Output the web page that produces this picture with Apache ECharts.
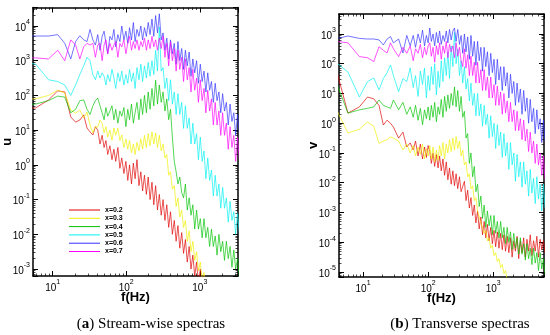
<!DOCTYPE html>
<html><head><meta charset="utf-8">
<script src="https://cdn.jsdelivr.net/npm/echarts@6/dist/echarts.min.js"></script>
<style>html,body{margin:0;padding:0;background:#fff}#c{width:550px;height:335px}</style>
</head><body><div id="c"></div>
<script>
// Series names and colours
const names = ['x=0.2','x=0.3','x=0.4','x=0.5','x=0.6','x=0.7'];
const colors = ['#e00000','#f0f000','#00c400','#00f0f0','#3232ff','#ff00ff'];

// ---- (a) stream-wise spectra: frequency (Hz) and log10(u) ----
const freqU = [2.93,5.86,8.79,11.7,14.6,17.6,20.5,23.4,26.4,29.3,32.2,35.2,38.1,41,44,47,50,53,56,60,64,68,72,77,82,87,93,99,105,111,118,125,132,140,149,158,167,177,188,199,211,224,237,251,266,282,299,317,336,356,378,400,424,450,477,505,535,568,602,638,676,717,760,805,854,905,959,1017,1078,1142,1211,1284,1361,1442,1529,1621,1718,1821,1930,2046,2169,2299,2437,2583,2738,2902,3076,3261,3457];
const u02 = [1.6,1.64,1.87,2.13,2.1,1.38,1.23,1.29,1.44,1.06,0.95,0.86,1.1,1.0,0.6,0.85,0.5,0.7,0.3,0.55,0.15,0.45,0.1,0.5,-0.1,0.2,-0.25,0.1,-0.45,0.0,-0.55,0.05,-0.4,0.15,-0.6,-0.2,-0.75,-0.3,-0.85,-0.35,-1.0,-0.5,-1.15,-0.6,-1.3,-0.85,-1.45,-1.0,-1.6,-1.15,-1.8,-1.35,-2.0,-1.6,-2.2,-1.75,-2.4,-1.95,-2.55,-2.15,-2.8,-2.35,-3.0,-2.6,-3.2,-2.8,-3.4,-3.0,-3.5,-3.2,-3.7];
const u03 = [1.87,1.9,2.0,2.15,2.07,1.58,1.49,1.58,1.35,1.52,1.15,0.92,1.1,1.09,1.29,1.2,0.92,1.1,0.8,1.0,0.71,1.06,0.85,1.06,0.7,0.86,0.5,0.75,0.45,0.7,0.35,0.6,0.3,0.65,0.4,0.75,0.45,0.85,0.5,0.9,0.55,0.95,0.6,0.92,0.5,0.85,0.4,0.6,0.2,0.3,-0.3,-0.2,-0.7,-0.6,-1.2,-0.95,-1.5,-1.3,-1.8,-1.6,-2.2,-1.9,-2.5,-2.2,-2.75,-2.5,-3.05,-2.8,-3.3,-3.1,-3.5];
const u04 = [1.72,1.75,1.85,1.98,1.95,1.5,1.6,1.85,1.87,1.6,1.45,1.7,1.85,1.92,1.7,1.5,1.3,1.65,1.4,1.55,1.7,1.3,1.6,1.2,1.55,1.4,1.65,1.1,1.6,1.3,1.75,1.2,1.5,1.8,1.3,1.9,1.45,2.0,1.5,2.1,1.6,2.2,1.7,2.44,1.75,2.3,1.8,2.1,1.55,1.9,1.3,1.6,0.8,0.1,-0.2,-0.55,-0.35,-0.8,-0.95,-0.55,-1.3,-0.95,-1.45,-1.15,-1.85,-1.3,-1.85,-1.55,-2.1,-1.55,-2.1,-1.8,-2.35,-1.85,-2.35,-2.05,-2.6,-2.0,-2.5,-2.2,-2.75,-2.2,-2.7,-2.35,-2.95,-2.45,-3.0,-2.7,-3.25];
const u05 = [3.0,2.9,2.45,2.4,2.3,2.0,2.3,2.6,2.85,3.1,3.0,2.6,2.45,2.7,2.5,2.65,2.55,2.3,2.6,2.4,2.75,2.5,2.2,2.65,2.4,2.7,2.3,2.6,2.35,2.75,2.4,2.65,2.2,2.8,2.45,2.9,2.4,2.85,2.5,2.95,2.55,3.0,2.6,3.3,2.7,3.97,2.7,2.8,2.2,2.5,1.85,2.45,1.75,2.1,1.45,2.05,1.45,1.8,1.05,1.7,1.05,1.35,0.6,1.2,0.6,0.9,0.15,0.8,0.1,0.4,-0.4,0.2,-0.45,-0.15,-0.9,-0.3,-0.9,-0.55,-1.25,-0.65,-1.25,-0.95,-1.65,-1.05,-1.6,-1.35,-2.0,-1.4,-1.95];
const u06 = [3.71,3.71,3.71,3.75,3.5,3.05,3.55,3.72,3.6,3.55,3.9,3.6,3.45,3.75,3.3,3.7,3.85,3.5,3.2,3.7,3.6,3.9,3.4,3.75,3.55,4.0,3.6,3.85,3.5,3.95,3.6,4.1,3.55,3.9,3.7,4.0,3.6,3.95,3.7,4.1,3.75,4.2,3.7,4.3,3.8,4.35,3.6,3.8,3.3,3.65,3.05,3.6,3.2,3.5,2.9,3.55,3.0,3.35,2.75,3.3,2.85,3.25,2.55,3.05,2.65,3.0,2.35,2.9,2.4,2.7,2.1,2.65,2.15,2.4,1.8,2.35,1.85,2.1,1.5,2.05,1.55,1.8,1.15,1.75,1.25,1.5,0.85,1.45,0.95];
const u07 = [3.08,3.08,3.05,3.3,3.0,3.6,3.45,3.05,3.4,3.5,3.45,3.5,3.1,3.45,3.5,3.0,3.45,3.6,3.2,3.5,3.3,3.45,3.55,3.1,3.5,3.4,3.6,3.2,3.5,3.7,3.3,3.55,3.35,3.6,3.3,3.55,3.4,3.65,3.3,3.6,3.35,3.7,3.4,3.6,3.3,3.65,3.35,3.7,3.1,3.5,2.85,3.55,3.0,3.35,2.7,3.3,2.75,3.1,2.4,3.05,2.45,2.8,2.1,2.75,2.15,2.5,1.8,2.45,1.85,2.2,1.5,2.15,1.55,1.9,1.15,1.8,1.15,1.55,0.85,1.5,0.85,1.2,0.45,1.1,0.5,0.85,0.1,0.8,0.15];

// ---- (b) transverse spectra: frequency (Hz) and log10(v) ----
const freqV = [2.93,5.86,8.79,11.7,14.6,17.6,20.5,23.4,26.4,29.3,35.2,41,47,53,59,64,70,76,82,88,94,100,106,112,119,126,134,142,150,159,169,179,190,201,213,226,240,254,269,285,303,321,340,361,382,405,430,455,483,512,542,575,609,646,685,726,769,815,864,916,971,1029,1091,1156,1226,1299,1377,1460,1547,1640,1739,1843,1953,2071,2195,2326,2466,2614,2771,2937,3113,3300,3498,3708,3930,4166,4416,4681,4962,5260,5575,5910,6264];
const v02 = [2.8,0.34,0.55,0.88,0.82,0.6,-0.06,0.1,0.0,-0.13,-0.5,-0.3,-0.8,-0.66,-0.9,-0.6,-1.1,-0.7,-1.2,-0.8,-1.15,-0.75,-0.95,-1.35,-1.0,-1.45,-1.05,-1.5,-1.1,-1.6,-1.2,-1.75,-1.3,-1.9,-1.5,-2.05,-1.6,-2.1,-1.7,-2.2,-1.8,-2.3,-2.35,-1.95,-2.6,-2.25,-2.85,-2.5,-3.1,-2.75,-3.35,-2.95,-3.55,-3.15,-3.75,-3.3,-3.85,-3.4,-3.95,-3.5,-4.05,-3.6,-4.15,-3.65,-4.2,-3.7,-4.25,-3.75,-4.3,-3.8,-4.35,-3.85,-4.5,-3.95,-4.3,-3.8,-4.55,-3.95,-4.35,-3.85,-4.5,-3.9,-4.3,-3.75,-4.45,-3.95,-4.3,-3.8,-4.5,-3.9,-4.25,-3.95,-4.35];
const v03 = [1.02,-0.33,-0.2,0.04,-0.1,-0.68,-0.6,-0.55,-0.46,-0.5,-0.6,-0.9,-0.7,-1.0,-0.75,-1.1,-0.8,-1.05,-0.7,-1.2,-0.85,-1.1,-0.75,-1.2,-0.8,-1.3,-0.9,-1.25,-0.75,-1.1,-0.65,-1.2,-0.7,-1.0,-0.55,-0.95,-0.5,-0.9,-0.45,-0.85,-0.6,-1.1,-0.9,-1.4,-1.3,-1.8,-1.7,-2.2,-2.1,-2.6,-2.5,-2.95,-2.9,-3.35,-3.3,-3.7,-3.6,-3.95,-3.85,-4.2,-4.1,-4.45,-4.35,-4.65,-4.55,-4.85,-4.75,-5.05,-4.95,-5.25,-5.2,-5.4];
const v04 = [2.07,0.34,0.45,0.5,0.55,0.78,0.6,0.55,0.5,0.78,0.45,0.7,0.3,0.55,0.2,0.6,0.1,0.5,-0.05,0.45,0.15,0.55,0.1,0.6,0.2,0.7,0.05,0.55,0.3,0.8,0.2,0.9,0.4,0.95,0.5,1.0,0.6,1.22,0.55,1.1,0.4,0.9,0.2,0.4,-0.5,-0.35,-1.35,-1.0,-1.8,-1.45,-2.3,-2.05,-2.8,-2.45,-3.2,-2.75,-3.5,-2.95,-3.45,-3.1,-3.75,-3.1,-3.7,-3.3,-3.85,-3.3,-3.85,-3.5,-4.05,-3.5,-4.0,-3.65,-4.25,-3.7,-4.2,-3.85,-4.4,-3.85,-4.4,-4.05,-4.6,-4.05,-4.55,-4.2,-4.75,-4.2,-4.7,-4.35,-4.95,-4.35,-4.9,-4.55,-5.1];
const v05 = [2.25,1.72,0.88,1.4,1.52,1.12,1.5,1.7,1.96,1.6,1.06,1.5,1.4,1.86,1.2,1.6,0.9,1.75,1.3,1.85,0.85,1.6,1.1,1.9,1.3,2.0,0.95,1.75,1.2,2.1,1.4,2.2,1.6,2.4,1.5,2.6,1.9,3.05,2.0,2.5,1.6,2.1,1.35,1.9,1.15,1.5,0.75,1.35,0.6,1.0,0.25,1.0,0.25,0.65,-0.1,0.6,-0.05,0.3,-0.5,0.25,-0.45,0.0,-0.85,-0.05,-0.75,-0.3,-1.15,-0.35,-1.1,-0.65,-1.55,-0.65,-1.4,-1.0,-1.95,-1.05,-1.8,-1.3,-2.15,-1.3,-2.05,-1.6,-2.45,-1.55,-2.35,-1.85,-2.7,-1.8,-2.55,-2.05,-2.95,-2.05,-2.85];
const v06 = [2.78,2.93,2.85,2.83,2.83,2.8,2.63,2.83,2.91,2.7,2.83,2.36,2.95,2.6,2.95,2.55,3.0,2.7,3.13,2.6,2.95,2.7,3.2,2.75,3.0,2.6,3.05,2.7,3.1,2.65,2.95,2.75,3.1,2.7,3.15,2.8,3.1,3.2,2.75,3.15,2.65,2.95,2.35,3.0,2.4,2.9,2.15,2.95,2.25,2.75,1.95,2.75,2.1,2.55,1.75,2.55,1.9,2.4,1.6,2.35,1.7,2.15,1.3,2.15,1.45,1.9,1.1,1.9,1.25,1.7,0.85,1.65,1.0,1.4,0.6,1.35,0.7,1.15,0.3,1.1,0.4,0.85,0.0,0.8,0.05,0.5,-0.35,0.45,-0.2,0.15,-0.65,0.1,-0.6];
const v07 = [2.79,2.7,2.24,2.2,2.07,2.57,2.45,2.36,2.7,2.5,2.24,2.55,2.35,2.6,2.1,2.5,2.35,2.65,2.2,2.55,2.3,2.6,2.7,2.25,2.55,2.05,2.6,2.3,2.7,2.15,2.6,2.35,2.75,2.2,2.65,2.4,2.6,2.2,2.7,2.25,2.55,2.1,1.9,2.5,1.85,2.3,1.6,2.25,1.6,2.05,1.35,2.05,1.35,1.8,1.1,1.8,1.1,1.55,0.85,1.55,0.85,1.3,0.6,1.25,0.6,1.05,0.3,1.0,0.35,0.75,0.05,0.7,0.05,0.45,-0.25,0.4,-0.25,0.15,-0.55,0.1,-0.6,-0.2,-0.95,-0.3,-1.0,-0.6,-1.35,-0.7,-1.4,-1.0,-1.75,-1.1,-1.9];

// Axis ranges (Hz and amplitude) and captions
const rangeU = {xmin: 5.4, xmax: 3310, ymin: 6.3e-4, ymax: 3.4e4};
const rangeV = {xmin: 4.27, xmax: 6030, ymin: 6.8e-6, ymax: 4680};
const captions = [['a', ') Stream-wise spectras'], ['b', ') Transverse spectras']];

const seriesU = [u02, u03, u04, u05, u06, u07];
const seriesV = [v02, v03, v04, v05, v06, v07];

function toPoints(freq, ex) { return ex.map((e, i) => [freq[i], Math.pow(10, e)]); }

const labelRich = {
  b: {fontSize: 10, fontFamily: 'Liberation Sans', color: '#000', verticalAlign: 'bottom', lineHeight: 14},
  e: {fontSize: 7, fontFamily: 'Liberation Sans', color: '#000', verticalAlign: 'top', lineHeight: 14}
};
function fmt(v) { return '{b|10}{e|' + Math.round(Math.log10(v)) + '}'; }

function axis(gridIndex, position, min, max, showLabel, name, nameGap) {
  return {
    type: 'log', logBase: 10, gridIndex, position, min, max,
    axisLine: {show: true, onZero: false, lineStyle: {color: '#000', width: 1.5}},
    axisTick: {show: true, inside: true, length: 5, lineStyle: {color: '#000', width: 1}},
    minorTick: {show: true, splitNumber: 9, length: 2.5, lineStyle: {color: '#000', width: 0.7}},
    splitLine: {show: false}, minorSplitLine: {show: false},
    axisLabel: {show: showLabel, showMinLabel: false, showMaxLabel: false, margin: 3, formatter: fmt, rich: labelRich},
    name: name || '', nameLocation: 'middle', nameGap: nameGap || 0, nameMoveOverlap: false,
    nameTextStyle: {fontWeight: 'bold', fontSize: 13, fontFamily: 'Liberation Sans', color: '#000'},
    silent: true
  };
}

const series = [];
[[seriesU, freqU, 0], [seriesV, freqV, 2]].forEach(([set, freq, ax]) => {
  set.forEach((ex, k) => {
    series.push({
      type: 'line', name: names[k], xAxisIndex: ax, yAxisIndex: ax,
      data: toPoints(freq, ex), showSymbol: false, symbol: 'none', clip: true,
      lineStyle: {color: colors[k], width: 0.75, opacity: 0.9}, itemStyle: {color: colors[k]},
      silent: true, animation: false
    });
  });
});

const chart = echarts.init(document.getElementById('c'), null, {renderer: 'canvas'});
chart.setOption({
  animation: false,
  backgroundColor: '#fff',
  grid: [
    {left: 29, top: 7.5, width: 209, height: 268.5},
    {left: 339, top: 14, width: 205, height: 263}
  ],
  xAxis: [
    axis(0, 'bottom', rangeU.xmin, rangeU.xmax, true, 'f(Hz)', 15),
    axis(0, 'top', rangeU.xmin, rangeU.xmax, false),
    axis(1, 'bottom', rangeV.xmin, rangeV.xmax, true, 'f(Hz)', 15),
    axis(1, 'top', rangeV.xmin, rangeV.xmax, false)
  ],
  yAxis: [
    axis(0, 'left', rangeU.ymin, rangeU.ymax, true, 'u', 19),
    axis(0, 'right', rangeU.ymin, rangeU.ymax, false),
    axis(1, 'left', rangeV.ymin, rangeV.ymax, true, 'v', 19),
    axis(1, 'right', rangeV.ymin, rangeV.ymax, false)
  ],
  legend: {
    orient: 'vertical', left: 64, top: 201, itemWidth: 31, itemHeight: 1, itemGap: 0.3,
    icon: 'rect', data: names, selectedMode: false,
    textStyle: {fontSize: 7, fontWeight: 'bold', fontFamily: 'Liberation Sans', color: '#000', lineHeight: 8}
  },
  graphic: captions.map((c, i) => ({
    type: 'text', x: i === 0 ? 151 : 460, y: 324,
    style: {
      text: '{p|(}{a|' + c[0] + '}{p|' + c[1] + '}',
      textAlign: 'center', textVerticalAlign: 'middle',
      rich: {
        p: {fontSize: 15, fontFamily: 'Liberation Serif', fill: '#000'},
        a: {fontSize: 15, fontFamily: 'Liberation Serif', fontWeight: 'bold', fill: '#000'}
      }
    }
  })),
  series
});
</script></body></html>
